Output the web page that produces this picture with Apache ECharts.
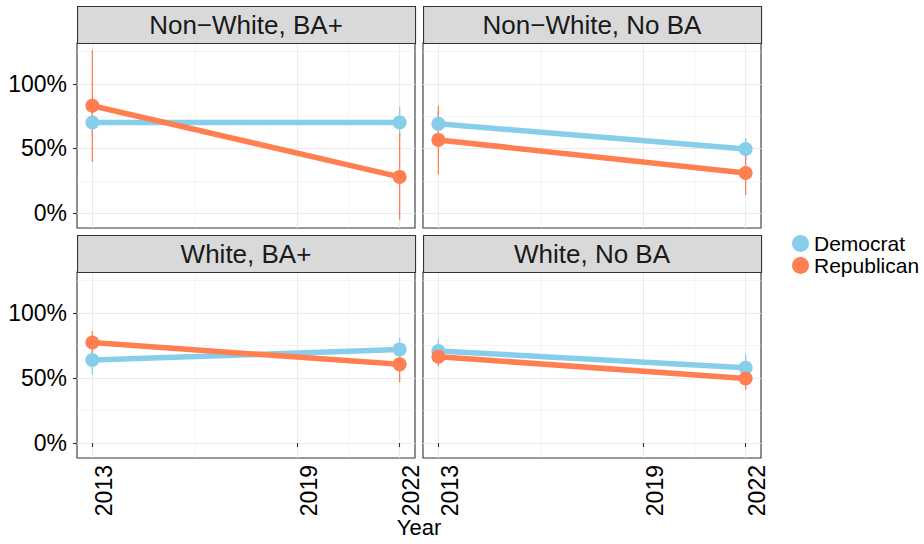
<!DOCTYPE html>
<html><head><meta charset="utf-8">
<script src="https://cdn.jsdelivr.net/npm/echarts@6/dist/echarts.min.js"></script>
<style>html,body{margin:0;padding:0;background:#fff}#c{width:924px;height:544px}</style>
</head><body><div id="c"></div>
<script>
// ---- data ----
const panels = ['Non\u2212White, BA+', 'Non\u2212White, No BA', 'White, BA+', 'White, No BA'];
const years = [2013, 2022];
const xTicks = [2013, 2019, 2022];
const xMinor = [2016, 2020.5];
const yTicks = [0, 50, 100];
const yMinor = [25, 75, 125];
const demValues = [[70, 70], [69, 49.6], [63.8, 72], [70.8, 57.9]];
const demLow    = [[60, 58], [59, 41], [52.7, 63], [61.5, 48]];
const demHigh   = [[80, 82], [79, 58], [75, 81], [80, 68]];
const repValues = [[83, 28], [56.6, 31], [77.3, 60.5], [66.4, 49.6]];
const repLow    = [[39.5, -5], [30, 14], [68.6, 46.7], [59, 41]];
const repHigh   = [[126, 62], [83, 48], [86, 74], [74, 58]];

// ---- style / layout ----
const FONT = '"Liberation Sans", Arial, Helvetica, sans-serif';
const DEM = '#87CEEB', REP = '#FF7F50';
const boxes = [[77, 43, 338, 185], [423, 43, 338, 185], [77, 272, 338, 186], [423, 272, 338, 186]];
const stripH = 37;
const X_MIN = 2012.55, X_MAX = 2022.45, Y_MIN = -11.5, Y_MAX = 131.5;

const grids = [], xAxes = [], yAxes = [], series = [], graphics = [];
boxes.forEach((b, i) => {
  const bottomRow = i >= 2, leftCol = i % 2 === 0;
  grids.push({left: b[0], top: b[1], width: b[2], height: b[3], show: true,
    backgroundColor: '#fff', borderColor: '#333333', borderWidth: 1.1, z: 0});
  // major x
  xAxes.push({gridIndex: i, type: 'value', min: X_MIN, max: X_MAX,
    axisLine: {show: false},
    axisTick: {show: bottomRow, customValues: xTicks, length: 4, lineStyle: {color: '#333333', width: 1.1}},
    axisLabel: {show: bottomRow, customValues: xTicks, rotate: 90, verticalAlign: 'top', margin: 7,
      fontSize: 23, color: '#000', fontFamily: FONT, formatter: v => String(v)},
    splitLine: {show: true, lineStyle: {color: '#EBEBEB', width: 1.1}}});
  // minor x
  xAxes.push({gridIndex: i, type: 'value', min: X_MIN, max: X_MAX,
    axisLine: {show: false},
    axisTick: {show: false, customValues: xMinor},
    axisLabel: {show: false, customValues: xMinor},
    splitLine: {show: true, lineStyle: {color: '#EBEBEB', width: 0.55}}});
  // major y
  yAxes.push({gridIndex: i, type: 'value', min: Y_MIN, max: Y_MAX,
    axisLine: {show: false},
    axisTick: {show: leftCol, customValues: yTicks, length: 4, lineStyle: {color: '#333333', width: 1.1}},
    axisLabel: {show: leftCol, customValues: yTicks, margin: 10, fontSize: 23, color: '#000',
      fontFamily: FONT, formatter: v => v + '%'},
    splitLine: {show: true, lineStyle: {color: '#EBEBEB', width: 1.1}}});
  // minor y
  yAxes.push({gridIndex: i, type: 'value', min: Y_MIN, max: Y_MAX,
    axisLine: {show: false},
    axisTick: {show: false, customValues: yMinor},
    axisLabel: {show: false, customValues: yMinor},
    splitLine: {show: true, lineStyle: {color: '#EBEBEB', width: 0.55}}});

  const ax = {xAxisIndex: 2 * i, yAxisIndex: 2 * i};
  const errSeries = (low, high, color) => ({
    type: 'custom', ...ax, z: 1, silent: true,
    data: years.map((y, k) => [y, low[i][k], high[i][k]]),
    encode: {x: 0, y: [1, 2]},
    renderItem: (params, api) => {
      const p1 = api.coord([api.value(0), api.value(1)]);
      const p2 = api.coord([api.value(0), api.value(2)]);
      return {type: 'line', shape: {x1: p1[0], y1: p1[1], x2: p2[0], y2: p2[1]},
        style: {stroke: color, lineWidth: 1.3}};
    }
  });
  series.push(errSeries(demLow, demHigh, DEM));
  series.push(errSeries(repLow, repHigh, REP));
  [['Democrat', demValues, DEM], ['Republican', repValues, REP]].forEach(([name, vals, color]) => {
    series.push({type: 'line', name, ...ax, z: 2, showSymbol: false, silent: true,
      data: years.map((y, k) => [y, vals[i][k]]),
      itemStyle: {color}, lineStyle: {color, width: 5.5}});
  });
  [['Democrat', demValues, DEM], ['Republican', repValues, REP]].forEach(([name, vals, color]) => {
    series.push({type: 'scatter', name, ...ax, z: 3, symbol: 'circle', symbolSize: 14, silent: true,
      data: years.map((y, k) => [y, vals[i][k]]),
      itemStyle: {color, opacity: 1}});
  });

  // strip
  graphics.push({type: 'rect', left: b[0], top: b[1] - stripH, z: 5,
    shape: {width: b[2], height: stripH},
    style: {fill: '#D9D9D9', stroke: '#333333', lineWidth: 1.1}});
  graphics.push({type: 'text', x: b[0] + b[2] / 2, y: b[1] - stripH / 2, z: 6,
    style: {text: panels[i], fill: '#1A1A1A', font: '26px ' + FONT, textAlign: 'center', textVerticalAlign: 'middle'}});
});
graphics.push({type: 'text', x: 419, y: 527, z: 6,
  style: {text: 'Year', fill: '#000', font: '22px ' + FONT, textAlign: 'center', textVerticalAlign: 'middle'}});

const chart = echarts.init(document.getElementById('c'), null, {renderer: 'svg'});
chart.setOption({
  animation: false,
  backgroundColor: '#fff',
  grid: grids, xAxis: xAxes, yAxis: yAxes, series,
  legend: {orient: 'vertical', left: 787, top: 228, itemWidth: 17, itemHeight: 17, itemGap: 1,
    textStyle: {fontSize: 21, color: '#000', fontFamily: FONT, padding: [0, 0, 0, 0]},
    data: [{name: 'Democrat', icon: 'circle'}, {name: 'Republican', icon: 'circle'}]},
  graphic: graphics
});
</script></body></html>
